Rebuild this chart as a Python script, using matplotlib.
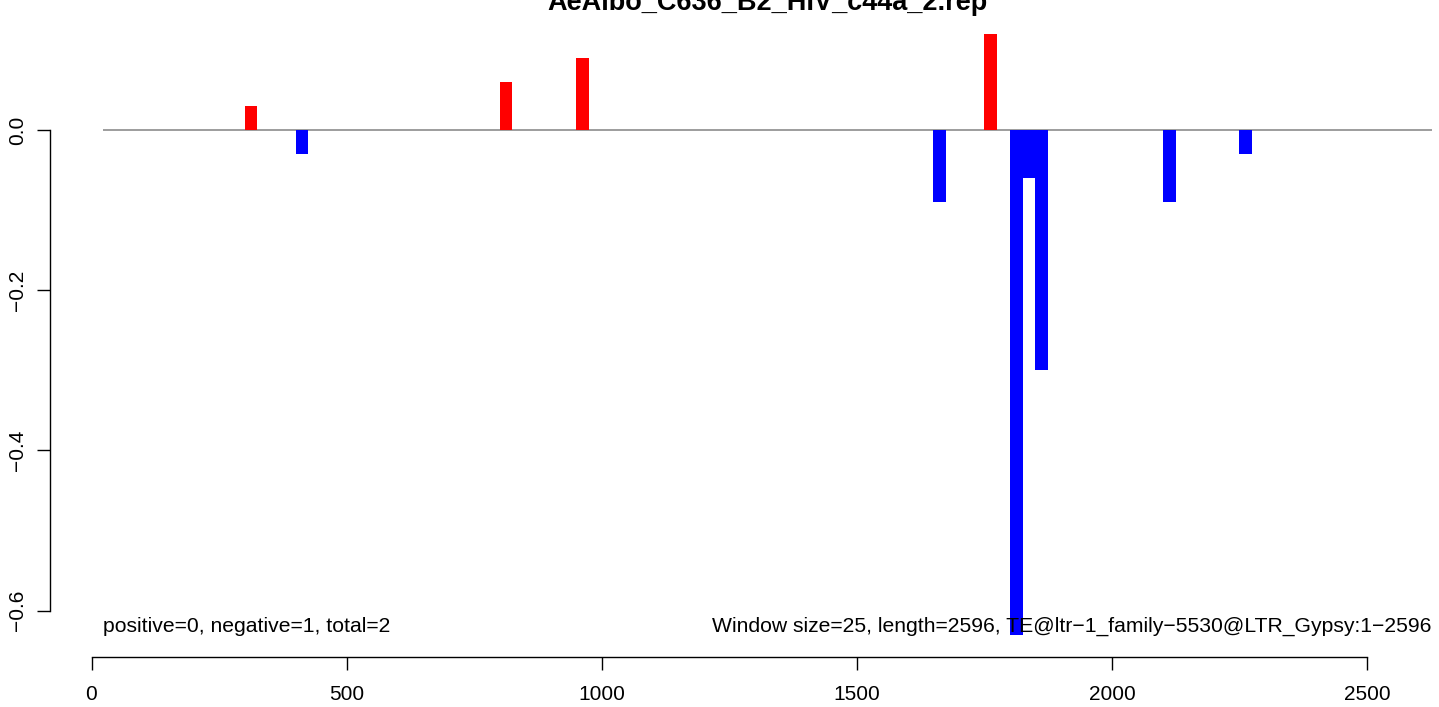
"""windowed strand bias barplot, R style"""
import matplotlib
matplotlib.use("Agg")
import matplotlib.pyplot as plt

plt.rcParams['font.family'] = ['Liberation Sans', 'DejaVu Sans']

# data
title = "AeAlbo_C636_B2_HIV_c44a_2.rep"
window = 25
win_start = [300, 400, 800, 950, 1650, 1750, 1800, 1825, 1850, 2100, 2250]
values = [0.03, -0.03, 0.06, 0.09, -0.09, 0.12, -0.63, -0.06, -0.30, -0.09, -0.03]
xticks = [0, 500, 1000, 1500, 2000, 2500]
yticks = [0.0, -0.2, -0.4, -0.6]
ytick_labels = ["0.0", "\u22120.2", "\u22120.4", "\u22120.6"]
left_note = "positive=0, negative=1, total=2"
right_note = "Window size=25, length=2596, TE@ltr\u22121_family\u22125530@LTR_Gypsy:1\u22122596"
zero_line = (22.5, 2627)

W, H = 1439, 707
fig = plt.figure(figsize=(W / 100, H / 100), dpi=100)

# axes box in pixels (from top-left)
px_l, px_r, py_t, py_b = 50, 1439, 20, 657
ax = fig.add_axes([px_l / W, 1 - py_b / H, (px_r - px_l) / W, (py_b - py_t) / H])

# pixel -> data mapping
x0_px, sx = 91.5, 0.5102
y0_px, sy = 130.5, 800.0
ax.set_xlim((px_l - x0_px) / sx, (px_r - x0_px) / sx)
ax.set_ylim((y0_px - py_b) / sy, (y0_px - py_t) / sy)

cols = ['#ff0000' if v > 0 else '#0000ff' for v in values]
ax.bar(win_start, values, width=window, align='edge', color=cols, linewidth=0, zorder=2)
ax.hlines(0, zero_line[0], zero_line[1], color='#8c8c8c', linewidth=1.2, zorder=1)

# R-like axes
for s in ['top', 'right']:
    ax.spines[s].set_visible(False)
ax.spines['left'].set_bounds(-0.6, 0)
ax.spines['bottom'].set_bounds(0, 2500)
for s in ['left', 'bottom']:
    ax.spines[s].set_linewidth(1.0)
ax.set_xticks(xticks)
ax.set_xticklabels([str(t) for t in xticks], fontsize=15)
ax.set_yticks(yticks)
ax.set_yticklabels(ytick_labels, fontsize=15, rotation=90, va='center')
ax.tick_params(axis='y', length=9.5, width=1.0, pad=7)
ax.tick_params(axis='x', length=9, width=1.0, pad=11)

ax.text(103 / W, 1 - 632 / H, left_note, transform=fig.transFigure,
        fontsize=15.2, ha='left', va='baseline')
ax.text(1431 / W, 1 - 632 / H, right_note, transform=fig.transFigure,
        fontsize=15.2, ha='right', va='baseline')
fig.text(767 / W, 1 - 10 / H, title, fontsize=19.5, fontweight='bold',
         ha='center', va='baseline')

fig.savefig("out.png", dpi=100)
